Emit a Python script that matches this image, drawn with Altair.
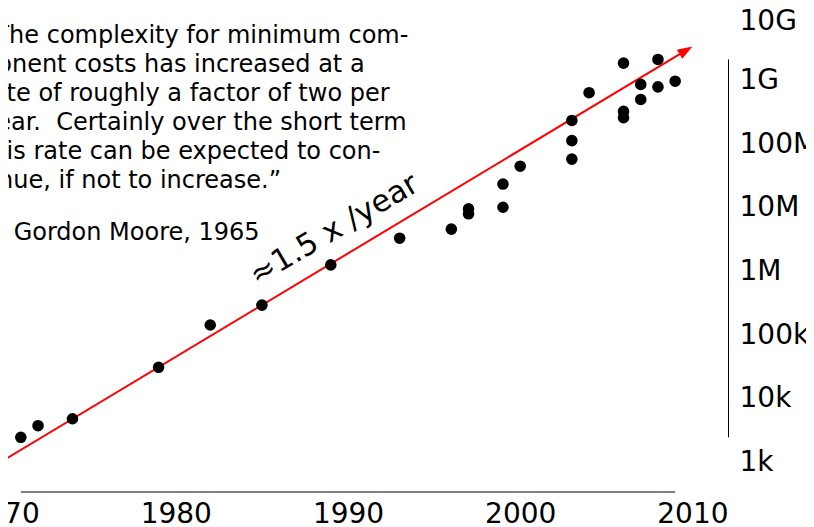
import math
import altair as alt
import pandas as pd

# ---- data (microprocessor transistor counts) ----
years = [1971, 1972, 1974, 1979, 1982, 1985, 1989, 1993, 1996, 1997, 1997,
         1999, 1999, 2000, 2003, 2003, 2003, 2004, 2006, 2006, 2006, 2007,
         2007, 2008, 2008, 2009]
counts = [2300, 3500, 4500, 29000, 134000, 275000, 1180000, 3100000, 4300000,
          9000000, 7500000, 22000000, 9500000, 42000000, 220000000, 106000000,
          54300000, 600000000, 1750000000, 305000000, 243000000, 810000000,
          470000000, 2000000000, 740000000, 910000000]

trend_years = [1970, 2010]
trend_counts = [1000, 3.2e9]

x_ticks = [1970, 1980, 1990, 2000, 2010]
y_ticks = [1e3, 1e4, 1e5, 1e6, 1e7, 1e8, 1e9, 1e10]

quote_lines = [
    "\u201cThe complexity for minimum com-",
    "ponent costs has increased at a",
    "rate of roughly a factor of two per",
    "year.\u00a0 Certainly over the short term",
    "this rate can be expected to con-",
    "tinue, if not to increase.\u201d",
]
attribution = "\u2014 Gordon Moore, 1965"
rate_label = "\u22481.5 x /year"

FONT = "DejaVu Sans"

pts_df = pd.DataFrame({"year": years, "count": counts})

# arrow head sits just behind the tip of the trend line (interpolated along it)
frac = 1 - 7.5 / 805.0
l0, l1 = math.log10(trend_counts[0]), math.log10(trend_counts[1])
head_year = trend_years[0] + frac * (trend_years[1] - trend_years[0])
head_count = 10 ** (l0 + frac * (l1 - l0))
head_df = pd.DataFrame({"year": [head_year], "count": [head_count]})
line_df = pd.DataFrame({"year": [trend_years[0], head_year],
                        "count": [trend_counts[0], head_count]})

# spines span the data range (like offset matplotlib spines with set_bounds)
xsp_df = pd.DataFrame({"year": [min(years)], "year2": [max(years)]})
ysp_df = pd.DataFrame({"count": [min(counts)], "count2": [max(counts)]})
one_df = pd.DataFrame({"k": [0]})

x_scale = alt.Scale(domain=[1970, 2010], range=[-4.4, 684.4], nice=False, zero=False)
y_scale = alt.Scale(type="log", domain=[1e3, 1e10], range=[452.3, 7], nice=False)

x_axis = alt.Axis(values=x_ticks, format="d", title=None, domain=False, ticks=False,
                  tickSize=0, grid=False, labelFont=FONT, labelFontSize=28,
                  labelColor="black", labelPadding=8, labelFlush=False, labelOverlap=False)
y_axis = alt.Axis(orient="right", values=y_ticks, format="~s", title=None, domain=False,
                  ticks=False, tickSize=0, grid=False, labelFont=FONT, labelFontSize=28,
                  labelColor="black", labelPadding=11, labelAlign="left",
                  labelBaseline="middle",
                  labelOffset={"condition": {"test": "datum.value >= 1e10", "value": 6},
                               "value": 2},
                  labelFlush=False, labelOverlap=False)

X = alt.X("year:Q", scale=x_scale, axis=x_axis)
Y = alt.Y("count:Q", scale=y_scale, axis=y_axis)

points = alt.Chart(pts_df).mark_circle(size=135, color="black", opacity=1).encode(x=X, y=Y)

trend = alt.Chart(line_df).mark_line(color="#ff0000", strokeWidth=2).encode(x=X, y=Y)

head = alt.Chart(head_df).mark_point(
    shape="M0,-1L0.7,1L-0.7,1Z", size=225, filled=True, color="#ff0000",
    opacity=1, angle=59, strokeWidth=0,
).encode(x=X, y=Y)

x_spine = alt.Chart(xsp_df).mark_rule(color="#808080", strokeWidth=2).encode(
    x=X, x2="year2:Q", y=alt.value(484)
)
y_spine = alt.Chart(ysp_df).mark_rule(color="black", strokeWidth=1).encode(
    y=Y, y2="count2:Q", x=alt.value(720.5)
)

quote_layers = [
    alt.Chart(one_df).mark_text(
        text=line, font=FONT, fontSize=24, align="left",
        baseline="alphabetic", color="black",
    ).encode(x=alt.value(-26), y=alt.value(35.3 + 29 * i))
    for i, line in enumerate(quote_lines)
]

attrib = alt.Chart(one_df).mark_text(
    text=attribution, font=FONT, fontSize=24, align="left",
    baseline="alphabetic", color="black",
).encode(x=alt.value(-26), y=alt.value(232))

rate = alt.Chart(one_df).mark_text(
    text=rate_label, font=FONT, fontSize=30.5, align="left", baseline="alphabetic",
    angle=329.5, color="black",
).encode(x=alt.value(249), y=alt.value(278))

chart = alt.layer(x_spine, y_spine, trend, head, points, *quote_layers, attrib, rate).properties(
    width=720, height=484,
    autosize=alt.AutoSizeParams(type="none"),
    padding={"left": 0, "top": 0, "right": 78, "bottom": 34},
    background="white",
).configure_view(stroke=None)

chart.save("out.html", embed_options={"renderer": "svg", "actions": False})
